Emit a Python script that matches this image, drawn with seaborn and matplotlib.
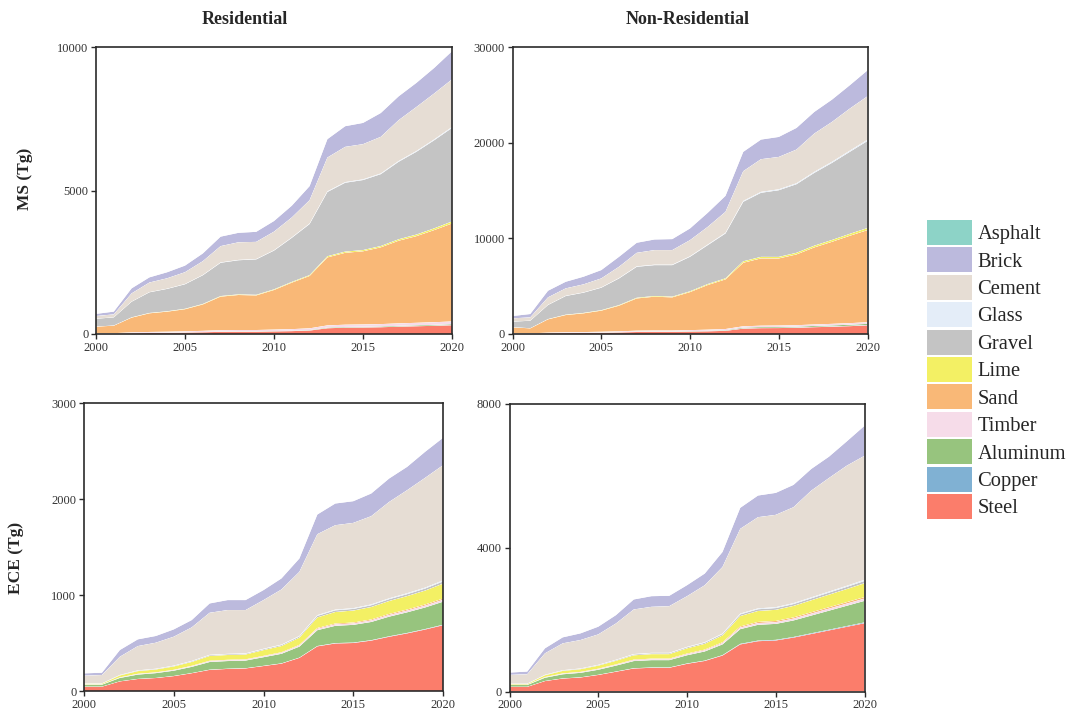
import matplotlib
matplotlib.use("Agg")
import matplotlib.pyplot as plt
from matplotlib.patches import Patch
import pandas as pd
import seaborn as sns
import seaborn.objects as so

# ---------------------------------------------------------------- data
years = list(range(2000, 2021))

stack_order = ["Steel", "Copper", "Aluminum", "Timber", "Sand", "Lime",
               "Gravel", "Glass", "Cement", "Brick"]
legend_order = ["Asphalt", "Brick", "Cement", "Glass", "Gravel", "Lime",
                "Sand", "Timber", "Aluminum", "Copper", "Steel"]
material_colors = {
    "Asphalt": "#8dd3c7", "Brick": "#bcbadd", "Cement": "#e6ddd4",
    "Glass": "#e4edf8", "Gravel": "#c4c4c4", "Lime": "#f3f064",
    "Sand": "#f9b877", "Timber": "#f6dce9", "Aluminum": "#97c47e",
    "Copper": "#80b1d3", "Steel": "#fb7d6b",
}

# Material stock (MS), residential buildings, Tg
ms_res_steel = [10, 12, 25, 35, 40, 50, 60, 75, 80, 80, 90, 100, 120, 200, 220, 225, 235, 255, 270, 285, 305]
ms_res_copper = [0.5, 0.5, 1, 1, 1, 1, 1.5, 2, 2, 2, 2, 2.5, 3, 4, 4.5, 4.5, 5, 5, 5.5, 6, 6]
ms_res_aluminum = [2, 2, 4, 5, 6, 7, 8, 10, 10, 10, 11, 12, 14, 20, 21, 22, 23, 25, 26, 28, 30]
ms_res_timber = [15, 15, 25, 30, 32, 35, 40, 45, 47, 47, 50, 55, 60, 75, 78, 80, 82, 85, 88, 92, 95]
ms_res_sand = [228, 260, 515, 650, 700, 770, 920, 1170, 1220, 1205, 1380, 1620, 1825, 2370, 2505, 2550, 2675, 2880, 3020, 3210, 3415]
ms_res_lime = [5, 5, 10, 12, 13, 15, 17, 20, 21, 21, 23, 26, 30, 40, 42, 43, 45, 50, 55, 60, 70]
ms_res_gravel = [270, 285, 545, 720, 780, 855, 1000, 1160, 1190, 1235, 1350, 1535, 1780, 2240, 2400, 2440, 2505, 2700, 2885, 3070, 3260]
ms_res_glass = [3, 3, 5, 7, 8, 9, 10, 12, 12, 12, 13, 15, 17, 22, 23, 24, 25, 27, 28, 30, 32]
ms_res_cement = [93, 101, 285, 333, 362, 411, 480, 568, 613, 598, 647, 695, 813, 1178, 1227, 1226, 1275, 1423, 1532, 1600, 1658]
ms_res_brick = [74, 96, 175, 180, 210, 230, 270, 330, 330, 350, 370, 410, 490, 640, 720, 740, 830, 830, 840, 890, 980]

# Material stock (MS), non-residential buildings, Tg
ms_non_steel = [30, 30, 70, 95, 110, 130, 160, 210, 220, 220, 250, 280, 330, 560, 610, 620, 650, 710, 760, 820, 900]
ms_non_copper = [2, 2, 4, 5, 6, 7, 8, 10, 10, 10, 12, 13, 15, 25, 27, 28, 29, 32, 34, 36, 40]
ms_non_aluminum = [6, 6, 12, 16, 18, 21, 25, 32, 34, 34, 38, 43, 50, 80, 85, 87, 90, 98, 105, 112, 120]
ms_non_timber = [30, 30, 55, 65, 70, 75, 85, 95, 100, 100, 105, 115, 125, 140, 145, 148, 150, 155, 160, 165, 170]
ms_non_sand = [630, 520, 1390, 1800, 1955, 2205, 2680, 3370, 3535, 3465, 3975, 4670, 5190, 6645, 7035, 7015, 7400, 8055, 8580, 9135, 9630]
ms_non_lime = [15, 15, 30, 40, 45, 50, 60, 70, 75, 75, 85, 100, 110, 150, 160, 160, 170, 180, 190, 200, 220]
ms_non_gravel = [575, 785, 1470, 1950, 2115, 2350, 2790, 3240, 3225, 3295, 3605, 4070, 4690, 6220, 6700, 6970, 7170, 7610, 8060, 8570, 9100]
ms_non_glass = [10, 10, 20, 25, 28, 32, 38, 45, 47, 47, 52, 60, 68, 90, 95, 97, 100, 108, 115, 122, 130]
ms_non_cement = [340, 340, 780, 775, 842, 938, 1182, 1415, 1523, 1523, 1688, 1850, 2192, 3110, 3415, 3383, 3520, 4002, 4165, 4398, 4540]
ms_non_brick = [240, 350, 690, 690, 800, 870, 1040, 1050, 1110, 1150, 1220, 1470, 1670, 2020, 2050, 2090, 2260, 2260, 2330, 2440, 2710]

# Embodied carbon emissions (ECE), residential buildings, Tg
ece_res_steel = [45, 45, 100, 125, 135, 155, 185, 220, 230, 235, 260, 285, 345, 465, 495, 500, 525, 565, 600, 640, 685]
ece_res_copper = [0.5, 0.5, 1, 1, 1, 1.5, 1.5, 2, 2, 2, 2, 2.5, 2.5, 3.5, 4, 4, 4, 4.5, 4.5, 5, 5]
ece_res_aluminum = [20, 20, 35, 45, 50, 55, 65, 80, 80, 80, 90, 100, 115, 165, 180, 185, 190, 205, 215, 225, 240]
ece_res_timber = [2, 2, 4, 5, 5, 6, 7, 8, 8, 8, 9, 10, 11, 14, 15, 15, 16, 17, 18, 19, 20]
ece_res_sand = [1, 1, 2, 3, 3, 3, 4, 5, 5, 5, 5, 6, 7, 9, 9, 9, 10, 11, 11, 12, 13]
ece_res_lime = [8, 8, 20, 28, 30, 35, 40, 50, 50, 50, 60, 65, 75, 110, 120, 125, 130, 135, 140, 145, 155]
ece_res_gravel = [2, 2, 4, 5, 5, 6, 7, 8, 8, 8, 9, 10, 12, 16, 17, 17, 18, 19, 20, 21, 23]
ece_res_glass = [1, 1, 2, 3, 3, 3, 4, 4, 4, 4, 5, 5, 6, 8, 8, 8, 9, 9, 10, 10, 11]
ece_res_cement = [80, 87, 189, 253, 271, 301, 349, 438, 456, 451, 507, 574, 668, 843, 879, 888, 919, 1004, 1073, 1143, 1200]
ece_res_brick = [24, 24, 70, 70, 70, 76, 76, 97, 104, 104, 104, 115, 139, 205, 226, 226, 236, 244, 243, 271, 285]

# Embodied carbon emissions (ECE), non-residential buildings, Tg
ece_non_steel = [130, 130, 290, 360, 390, 460, 550, 640, 660, 660, 770, 850, 1000, 1310, 1400, 1420, 1500, 1600, 1700, 1800, 1900]
ece_non_copper = [1.5, 1.5, 3, 4, 4.5, 5, 6, 7, 7.5, 7.5, 8.5, 9.5, 11, 15, 16, 16.5, 17, 18.5, 19.5, 21, 22]
ece_non_aluminum = [50, 50, 90, 115, 125, 140, 165, 200, 205, 205, 230, 255, 300, 410, 440, 445, 460, 495, 530, 565, 600]
ece_non_timber = [6, 6, 12, 15, 16, 18, 21, 25, 26, 26, 29, 32, 36, 45, 48, 49, 51, 54, 57, 60, 63]
ece_non_sand = [3, 3, 7, 9, 10, 11, 13, 15, 16, 16, 18, 20, 23, 30, 32, 32, 34, 36, 38, 40, 42]
ece_non_lime = [20, 20, 50, 70, 75, 85, 100, 120, 125, 125, 145, 160, 190, 290, 305, 310, 320, 335, 350, 365, 385]
ece_non_gravel = [5, 5, 10, 13, 14, 16, 19, 23, 24, 24, 27, 30, 35, 45, 48, 49, 51, 54, 57, 60, 64]
ece_non_glass = [3, 3, 5, 7, 7, 8, 10, 12, 12, 12, 14, 15, 18, 23, 24, 25, 26, 27, 29, 30, 32]
ece_non_cement = [244, 262, 596, 747, 791, 846, 1010, 1241, 1281, 1299, 1410, 1585, 1852, 2359, 2538, 2569, 2669, 2970, 3161, 3342, 3451]
ece_non_brick = [64, 74, 139, 167, 185, 214, 232, 278, 296, 288, 306, 325, 417, 584, 602, 611, 621, 603, 593, 676, 834]

ms_res_ticks = [0, 5000, 10000]
ms_non_ticks = [0, 10000, 20000, 30000]
ece_res_ticks = [0, 1000, 2000, 3000]
ece_non_ticks = [0, 4000, 8000]
year_ticks = [2000, 2005, 2010, 2015, 2020]

# ---------------------------------------------------------------- style
sns.set_theme(style="ticks")
serif = ["Liberation Serif", "DejaVu Serif"]
plt.rcParams["font.family"] = serif
plt.rcParams.update({
    "axes.edgecolor": "#2b2b2b",
    "axes.linewidth": 1.2,
    "xtick.color": "#2b2b2b",
    "ytick.color": "#2b2b2b",
    "xtick.labelcolor": "#333333",
    "ytick.labelcolor": "#333333",
    "xtick.major.size": 3.5,
    "ytick.major.size": 3.5,
    "xtick.major.width": 1.0,
    "ytick.major.width": 1.0,
    "xtick.labelsize": 9,
    "ytick.labelsize": 9,
})
so.Plot.config.theme.update({
    **sns.axes_style("ticks"),
    "font.family": serif,
    "axes.edgecolor": "#2b2b2b",
    "axes.linewidth": 1.2,
    "axes.facecolor": "white",
    "axes.grid": False,
})


def long_frame(steel, copper, aluminum, timber, sand, lime, gravel, glass,
               cement, brick):
    layers = dict(zip(stack_order, [steel, copper, aluminum, timber, sand,
                                    lime, gravel, glass, cement, brick]))
    rows = []
    for mat in stack_order:
        for yr, val in zip(years, layers[mat]):
            rows.append({"year": yr, "material": mat, "value": val})
    return pd.DataFrame(rows)


panels = [
    ([96 / 1070, 1 - 334 / 712, 356 / 1070, 287 / 712],
     long_frame(ms_res_steel, ms_res_copper, ms_res_aluminum, ms_res_timber,
                ms_res_sand, ms_res_lime, ms_res_gravel, ms_res_glass,
                ms_res_cement, ms_res_brick), ms_res_ticks),
    ([512.5 / 1070, 1 - 334 / 712, 355 / 1070, 287 / 712],
     long_frame(ms_non_steel, ms_non_copper, ms_non_aluminum, ms_non_timber,
                ms_non_sand, ms_non_lime, ms_non_gravel, ms_non_glass,
                ms_non_cement, ms_non_brick), ms_non_ticks),
    ([84 / 1070, 1 - 691 / 712, 359 / 1070, 288 / 712],
     long_frame(ece_res_steel, ece_res_copper, ece_res_aluminum, ece_res_timber,
                ece_res_sand, ece_res_lime, ece_res_gravel, ece_res_glass,
                ece_res_cement, ece_res_brick), ece_res_ticks),
    ([509.5 / 1070, 1 - 691.5 / 712, 355 / 1070, 287.5 / 712],
     long_frame(ece_non_steel, ece_non_copper, ece_non_aluminum, ece_non_timber,
                ece_non_sand, ece_non_lime, ece_non_gravel, ece_non_glass,
                ece_non_cement, ece_non_brick), ece_non_ticks),
]

fig = plt.figure(figsize=(10.7, 7.12), dpi=100)
fig.patch.set_facecolor("white")

for rect, df, yticks in panels:
    ax = fig.add_axes(rect)
    (
        so.Plot(df, x="year", y="value", color="material")
        .add(so.Area(alpha=1, edgewidth=0), so.Stack(), legend=False)
        .scale(color=so.Nominal(material_colors, order=stack_order))
        .label(x="", y="")
        .on(ax)
        .plot()
    )
    ax.set_facecolor("white")
    ax.grid(False)
    ax.set_xlim(years[0], years[-1])
    ax.set_ylim(yticks[0], yticks[-1])
    ax.set_xticks(year_ticks)
    ax.set_yticks(yticks)
    ax.set_xlabel("")
    ax.set_ylabel("")
    for side in ["left", "right", "top", "bottom"]:
        ax.spines[side].set_visible(True)
        ax.spines[side].set_color("#2b2b2b")
        ax.spines[side].set_linewidth(1.2)
    ax.tick_params(axis="both", which="major", direction="out", length=3.5,
                   width=1.0, labelsize=9, labelcolor="#333333",
                   labelfontfamily="Liberation Serif", pad=2,
                   top=False, right=False)

# column and row headings
fig.text(245 / 1070, 1 - 19 / 712, "Residential", ha="center", va="center",
         fontsize=13, fontweight="bold", family=serif)
fig.text(688 / 1070, 1 - 19 / 712, "Non-Residential", ha="center",
         va="center", fontsize=13, fontweight="bold", family=serif)
fig.text(25 / 1070, 1 - 179 / 712, "MS (Tg)", ha="center", va="center",
         rotation=90, fontsize=12.5, fontweight="bold", family=serif)
fig.text(16 / 1070, 1 - 558 / 712, "ECE (Tg)", ha="center", va="center",
         rotation=90, fontsize=12.5, fontweight="bold", family=serif)

# material legend
handles = [Patch(facecolor=material_colors[m], edgecolor="none")
           for m in legend_order]
fig.legend(handles, legend_order, loc="upper left",
           bbox_to_anchor=(927 / 1070, 1 - 220 / 712), frameon=False,
           prop={"family": serif, "size": 14.8}, handlelength=2.2,
           handleheight=1.49, labelspacing=0.12, handletextpad=0.25,
           borderpad=0, borderaxespad=0)

fig.savefig("out.png", dpi=100, facecolor="white")
